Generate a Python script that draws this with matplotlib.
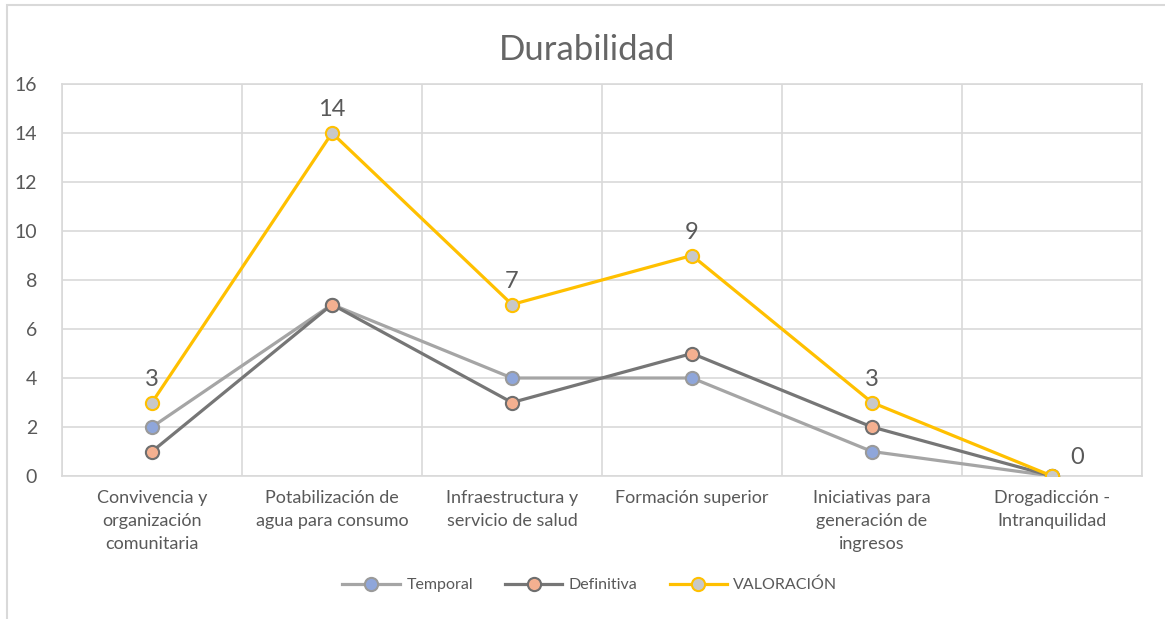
import matplotlib
matplotlib.use("Agg")
import matplotlib.pyplot as plt
from matplotlib.patches import Rectangle

categories = ["Convivencia y\norganización\ncomunitaria",
              "Potabilización de\nagua para consumo",
              "Infraestructura y\nservicio de salud",
              "Formación superior",
              "Iniciativas para\ngeneración de\ningresos",
              "Drogadicción -\nIntranquilidad"]
temporal = [2, 7, 4, 4, 1, 0]
definitiva = [1, 7, 3, 5, 2, 0]
valoracion = [3, 14, 7, 9, 3, 0]

plt.rcParams['font.family'] = ['Lato', 'DejaVu Sans']
txt = '#595959'

fig = plt.figure(figsize=(11.65, 6.19), dpi=100)
ax = fig.add_axes([62/1165, 1-476/619, 1080/1165, 392/619])

x = list(range(len(categories)))
ax.plot(x, temporal, color='#A5A5A5', lw=2.3, marker='o', ms=9.5,
        mfc='#8FA6DA', mec='#9A9A9A', mew=1.5, label='Temporal', zorder=3)
ax.plot(x, definitiva, color='#767676', lw=2.3, marker='o', ms=9.5,
        mfc='#F4B090', mec='#6E6E6E', mew=1.5, label='Definitiva', zorder=4)
ax.plot(x, valoracion, color='#FFC000', lw=2.3, marker='o', ms=9.5,
        mfc='#C8C8C8', mec='#FFC000', mew=1.5, label='VALORACIÓN', zorder=5)

for xi, v in zip(x, valoracion):
    if xi == len(x) - 1:
        ax.annotate(str(v), (xi, v), xytext=(18, 6), textcoords='offset points',
                    ha='center', va='bottom', fontsize=17, color=txt)
    else:
        ax.annotate(str(v), (xi, v), xytext=(0, 9), textcoords='offset points',
                    ha='center', va='bottom', fontsize=17, color=txt)

ax.set_xlim(-0.5, len(categories) - 0.5)
ax.set_ylim(0, 16)
ax.set_yticks(range(0, 17, 2))
ax.set_xticks(x)
ax.set_xticklabels(categories, fontsize=13, color=txt, linespacing=1.55)
ax.tick_params(axis='y', labelsize=14, labelcolor=txt, length=0, pad=18)
ax.tick_params(axis='x', length=0, pad=10)
ax.set_xticks([i + 0.5 for i in range(-1, len(categories))], minor=True)
ax.tick_params(axis='x', which='minor', length=0)
ax.grid(axis='y', color='#D9D9D9', lw=1.2)
ax.grid(axis='x', which='minor', color='#D9D9D9', lw=1.2)
ax.set_axisbelow(True)
for s in ax.spines.values():
    s.set_color('#D9D9D9')
    s.set_linewidth(1.2)

fig.text(587/1165, 1-50/619, 'Durabilidad', ha='center', va='center',
         fontsize=25, color='#666666')

leg = fig.legend(loc='center', bbox_to_anchor=(590/1165, 1-585/619), ncol=3,
                 frameon=False, fontsize=11.5, labelcolor=txt, handlelength=3.6,
                 columnspacing=2.0, handletextpad=0.4)

fig.patches.append(Rectangle((7/1165, -0.1), 1.2, 1.1 - 5/619 + 0.0,
                             transform=fig.transFigure, fill=False,
                             edgecolor='#D9D9D9', lw=1.5))

fig.savefig('out.png', dpi=100)
